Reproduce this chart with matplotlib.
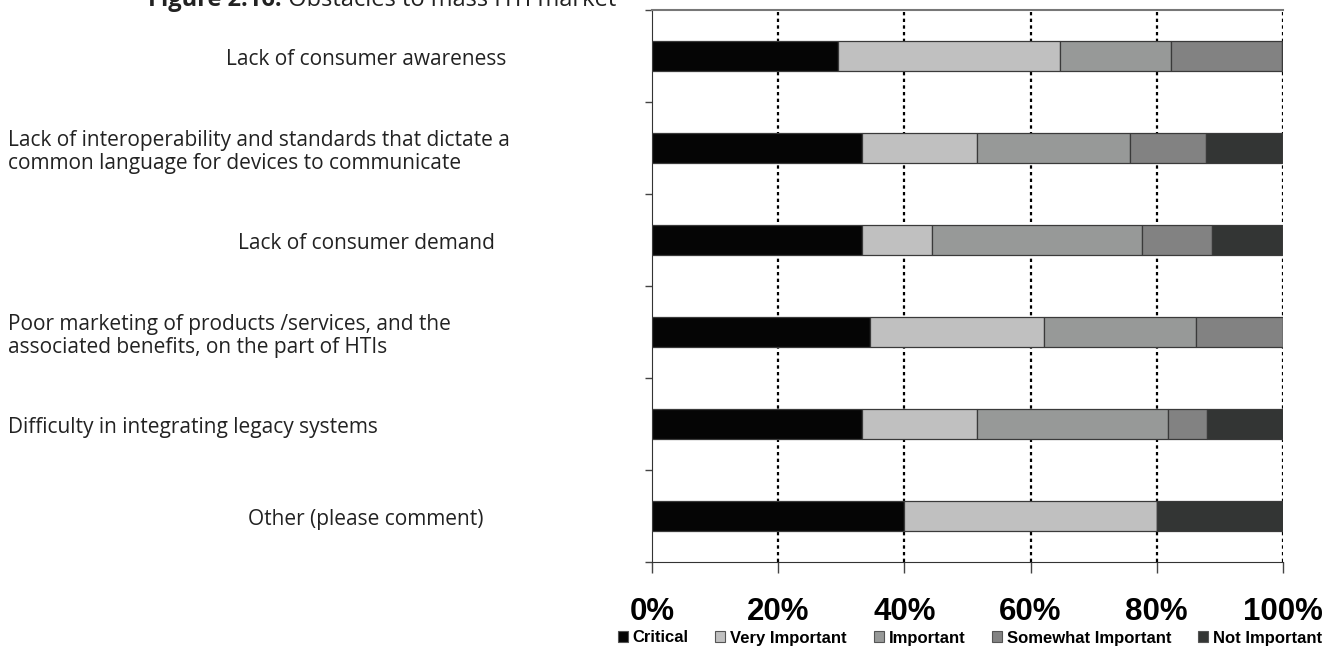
import matplotlib
matplotlib.use("Agg")
import matplotlib.pyplot as plt
from matplotlib.patches import Patch
from matplotlib import font_manager as fm
import numpy as np

categories = [
    "Lack of consumer awareness",
    "Lack of interoperability and standards that dictate a\ncommon language for devices to communicate",
    "Lack of consumer demand",
    "Poor marketing of products /services, and the\nassociated benefits, on the part of HTIs",
    "Difficulty in integrating legacy systems",
    "Other (please comment)",
]
label_align = ["center", "left", "center", "left", "left", "center"]

series = ["Critical", "Very Important", "Important", "Somewhat Important", "Not Important"]
critical = [29.4, 33.3, 33.3, 34.5, 33.3, 40.0]
very_important = [35.3, 18.2, 11.1, 27.6, 18.2, 40.0]
important = [17.6, 24.2, 33.3, 24.1, 30.3, 0.0]
somewhat_important = [17.6, 12.1, 11.1, 13.8, 6.1, 0.0]
not_important = [0.0, 12.1, 11.1, 0.0, 12.1, 20.0]
colors = ["#050505", "#c0c0c0", "#979998", "#828282", "#333534"]

xticks = [0, 20, 40, 60, 80, 100]
xtick_labels = ["0%", "20%", "40%", "60%", "80%", "100%"]

title_bold = "Figure 2.16:"
title_rest = " Obstacles to mass HTI market"

avail = {f.name for f in fm.fontManager.ttflist}
narrow = "Liberation Sans Narrow" if "Liberation Sans Narrow" in avail else "Liberation Sans"
label_font = "Open Sans"

W, H = 1333, 652
fig = plt.figure(figsize=(W / 100, H / 100), dpi=100)
ax = fig.add_axes([652 / W, 1 - 562 / H, (1283 - 652) / W, (562 - 10) / H])

data = [critical, very_important, important, somewhat_important, not_important]
y = np.arange(len(categories)) + 0.5
left = np.zeros(len(categories))
for name, vals, c in zip(series, data, colors):
    vals = np.array(vals)
    ax.barh(y, vals, left=left, height=0.33, color=c, edgecolor="#3a3a3a",
            linewidth=0.9, label=name, zorder=3)
    left += vals

ax.set_xlim(0, 100)
ax.set_ylim(len(categories), 0)
for xv in xticks[1:]:
    ax.axvline(xv, color="black", linestyle=(0, (1.5, 1.5)), linewidth=1.6, zorder=2)

ax.set_xticks(xticks)
ax.set_xticklabels(xtick_labels, fontsize=22.5, fontweight="bold", family=narrow)
ax.tick_params(axis="x", direction="out", length=8, width=1, color="#444444", pad=17)
ax.set_yticks(np.arange(len(categories) + 1))
ax.set_yticklabels([])
ax.tick_params(axis="y", direction="out", length=5, width=1, color="#444444")

ax.spines["top"].set_color("#777777")
ax.spines["top"].set_linewidth(1.5)
ax.spines["right"].set_visible(False)
ax.spines["left"].set_color("#333333")
ax.spines["bottom"].set_color("#333333")

trans = matplotlib.transforms.blended_transform_factory(fig.transFigure, ax.transData)
for yi, lab, al in zip(y, categories, label_align):
    xpos = 366 / W if al == "center" else 8 / W
    ax.text(xpos, yi + 0.04, lab, transform=trans, ha=al, va="center",
            fontsize=15, family=label_font, color="#222222", linespacing=1.12,
            multialignment="left")

t1 = fig.text(148 / W, 1 - 6 / H, title_bold, fontsize=17, fontweight="bold",
              family=label_font, color="#222222", va="baseline", ha="left")
fig.canvas.draw()
bb = t1.get_window_extent()
fig.text(bb.x1 / W, 1 - 6 / H, title_rest, fontsize=17, family=label_font,
         color="#222222", va="baseline", ha="left")

handles = [Patch(facecolor=c, edgecolor="#555555", linewidth=0.8) for c in colors]
fig.legend(handles, series, loc="center", bbox_to_anchor=(970 / W, 1 - 638 / H),
           ncol=5, frameon=False, prop={"family": narrow, "weight": "bold", "size": 12},
           handlelength=0.6, handleheight=0.6, handletextpad=0.3, columnspacing=1.6)

fig.savefig("out.png", dpi=100)
